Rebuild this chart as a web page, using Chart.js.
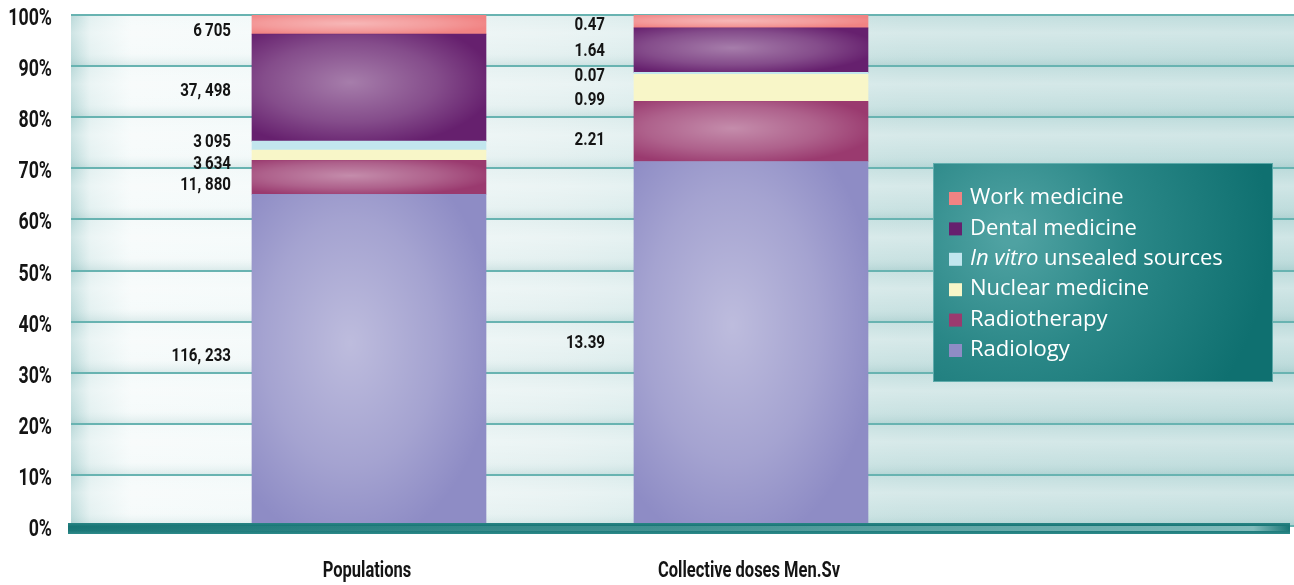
<!DOCTYPE html>
<html>
<head>
<meta charset="utf-8">
<script src="https://cdn.jsdelivr.net/npm/chart.js@4.4.1/dist/chart.umd.min.js"></script>
<style>
  html, body { margin: 0; padding: 0; background: #fff; }
</style>
</head>
<body>
<canvas id="chart" width="1294" height="585"></canvas>
<script>
const categories = ["Populations", "Collective doses Men.Sv"];
const seriesNames = ["Radiology", "Radiotherapy", "Nuclear medicine", "In vitro unsealed sources", "Dental medicine", "Work medicine"];

// raw values: [populations, collective doses (Men.Sv)]
const radiology = [116233, 13.39];
const radiotherapy = [11880, 2.21];
const nuclear = [3634, 0.99];
const inVitro = [3095, 0.07];
const dental = [37498, 1.64];
const work = [6705, 0.47];

// value labels as printed beside each bar, in series order
const populationLabels = ["116, 233", "11, 880", "3\u2009634", "3\u2009095", "37, 498", "6\u2009705"];
const doseLabels = ["13.39", "2.21", "0.99", "0.07", "1.64", "0.47"];

const yTicks = [0, 10, 20, 30, 40, 50, 60, 70, 80, 90, 100];

const seriesValues = [radiology, radiotherapy, nuclear, inVitro, dental, work];
const seriesColors = ["#8e8cc5", "#9a3a6f", "#f8f6c8", "#c2e6ee", "#66206e", "#f18383"];
const seriesShine = [true, true, false, false, true, true];
const valueLabels = [populationLabels, doseLabels];
const labelGap = [21, 29];
const labelNudge = [[-3, 8, 9, -3, 4, 7], [0, 9, 13, 3, 1, 4]];

const totals = categories.map((c, i) => seriesValues.reduce((s, arr) => s + arr[i], 0));

// no condensed face is installed, so squeeze Roboto bold horizontally
function condensedText(ctx, text, x, y, size, sx, align, baseline) {
  ctx.save();
  ctx.font = "bold " + size + "px Roboto, sans-serif";
  ctx.fillStyle = "#141414";
  ctx.textAlign = align;
  ctx.textBaseline = baseline || "middle";
  ctx.translate(x, y);
  ctx.scale(sx, 1);
  ctx.fillText(text, 0, 0);
  ctx.restore();
}

const plotBackground = {
  id: "plotBackground",
  beforeDraw(chart) {
    const { ctx, chartArea } = chart;
    const left = chartArea.left, right = chart.width;
    const top = chartArea.top, bottom = chartArea.bottom;
    const w = right - left;
    const g = ctx.createLinearGradient(left, 0, right, 0);
    g.addColorStop(0, "#b9d9d9");
    g.addColorStop(19 / w, "#e2f0f0");
    g.addColorStop(60 / w, "#f5fafa");
    g.addColorStop(190 / w, "#f2f9f9");
    g.addColorStop(490 / w, "#e2efef");
    g.addColorStop(630 / w, "#d4e9e9");
    g.addColorStop(830 / w, "#c6e0e0");
    g.addColorStop(1, "#bcdbdb");
    ctx.save();
    ctx.fillStyle = g;
    ctx.fillRect(left, top, w, bottom - top);

    // soft shine inside each 10% band
    const y = chart.scales.y;
    for (let i = 0; i < yTicks.length - 1; i++) {
      const y0 = y.getPixelForValue(yTicks[i + 1]);
      const y1 = y.getPixelForValue(yTicks[i]);
      const bg = ctx.createLinearGradient(0, y0, 0, y1);
      bg.addColorStop(0, "rgba(255,255,255,0)");
      bg.addColorStop(0.35, "rgba(255,255,255,0.3)");
      bg.addColorStop(0.75, "rgba(255,255,255,0.08)");
      bg.addColorStop(1, "rgba(80,150,150,0.16)");
      ctx.fillStyle = bg;
      ctx.fillRect(left, y0, w, y1 - y0);
    }
    ctx.fillStyle = "rgba(255,255,255,0.5)";
    ctx.fillRect(left, top, w, 1);
    ctx.restore();
  }
};

const barDecor = {
  id: "barDecor",
  afterDatasetsDraw(chart) {
    const { ctx, chartArea } = chart;
    ctx.save();
    // shine on bar segments
    chart.data.datasets.forEach((ds, d) => {
      if (!seriesShine[d]) return;
      chart.getDatasetMeta(d).data.forEach((el) => {
        const { x, y, base, width } = el.getProps(["x", "y", "base", "width"], true);
        const l = x - width / 2, t = Math.min(y, base), h = Math.abs(base - y);
        if (h < 1) return;
        ctx.save();
        ctx.beginPath();
        ctx.rect(l, t, width, h);
        ctx.clip();
        ctx.translate(l + width * 0.42, t + h * 0.45);
        ctx.scale(width * 0.62, h * 0.62);
        const rg = ctx.createRadialGradient(0, 0, 0, 0, 0, 1);
        rg.addColorStop(0, "rgba(255,255,255,0.42)");
        rg.addColorStop(0.6, "rgba(255,255,255,0.2)");
        rg.addColorStop(1, "rgba(255,255,255,0)");
        ctx.fillStyle = rg;
        ctx.fillRect(-2, -2, 4, 4);
        ctx.restore();
      });
    });

    // floor strip along the x axis
    const fy = chartArea.bottom - 3, fh = 11, fx = 68, fw = 1290 - 68;
    const fg = ctx.createLinearGradient(0, fy, 0, fy + fh);
    fg.addColorStop(0, "#2a8585");
    fg.addColorStop(0.3, "#167474");
    fg.addColorStop(0.7, "#1b7878");
    fg.addColorStop(1, "#2f8b8b");
    ctx.fillStyle = fg;
    ctx.fillRect(fx, fy, fw, fh);
    const sg = ctx.createLinearGradient(fx, 0, fx + fw, 0);
    sg.addColorStop(0, "rgba(190,230,230,0)");
    sg.addColorStop(0.5, "rgba(190,230,230,0.25)");
    sg.addColorStop(0.97, "rgba(200,235,235,0.6)");
    sg.addColorStop(1, "rgba(200,235,235,0)");
    ctx.fillStyle = sg;
    ctx.fillRect(fx, fy + 3, fw, 5);

    // value labels to the left of each bar
    chart.data.datasets.forEach((ds, d) => {
      chart.getDatasetMeta(d).data.forEach((el, i) => {
        const { x, y, base, width } = el.getProps(["x", "y", "base", "width"], true);
        condensedText(ctx, valueLabels[i][d], x - width / 2 - labelGap[i], (y + base) / 2 + labelNudge[i][d], 18, 0.84, "right");
      });
    });
    ctx.restore();
  }
};

const axisLabels = {
  id: "axisLabels",
  afterDraw(chart) {
    const { ctx, scales } = chart;
    scales.y.ticks.forEach((t) => {
      condensedText(ctx, t.value + "%", 52, scales.y.getPixelForValue(t.value) + 4, 24, 0.74, "right");
    });
    scales.x.ticks.forEach((t) => {
      condensedText(ctx, categories[t.value - 1], scales.x.getPixelForValue(t.value) - 2, 577, 22, 0.75, "center", "alphabetic");
    });
  }
};

const legendBox = {
  id: "legendBox",
  afterDraw(chart) {
    const { ctx } = chart;
    const bx = 933, by = 163, bw = 340, bh = 219;
    ctx.save();
    const rg = ctx.createRadialGradient(1010, 235, 10, 1010, 235, 260);
    rg.addColorStop(0, "#4fa2a2");
    rg.addColorStop(0.45, "#2a8787");
    rg.addColorStop(1, "#0f7070");
    ctx.fillStyle = rg;
    ctx.fillRect(bx, by, bw, bh);
    ctx.strokeStyle = "rgba(120,190,190,0.7)";
    ctx.lineWidth = 1;
    ctx.strokeRect(bx + 0.5, by + 0.5, bw - 1, bh - 1);

    ctx.textBaseline = "middle";
    ctx.textAlign = "left";
    const items = chart.data.datasets.map((ds, d) => ({ label: ds.label, color: seriesColors[d] })).reverse();
    items.forEach((it, k) => {
      const cy = 198 + k * 30.4;
      ctx.fillStyle = it.color;
      ctx.fillRect(949, cy - 6, 13, 13);
      ctx.fillStyle = "#ffffff";
      let tx = 970;
      let text = it.label;
      if (text.startsWith("In vitro")) {
        ctx.font = "italic 22px 'Open Sans', sans-serif";
        ctx.fillText("In vitro", tx, cy);
        tx += ctx.measureText("In vitro").width;
        text = text.slice("In vitro".length);
      }
      ctx.font = "22px 'Open Sans', sans-serif";
      ctx.fillText(text, tx, cy);
    });
    ctx.restore();
  }
};

new Chart(document.getElementById("chart"), {
  type: "bar",
  data: {
    datasets: seriesNames.map((name, d) => ({
      label: name,
      data: categories.map((c, i) => ({ x: i + 1, y: seriesValues[d][i] / totals[i] * 100 })),
      backgroundColor: seriesColors[d],
      borderWidth: 0,
      barThickness: 234
    }))
  },
  options: {
    responsive: false,
    devicePixelRatio: 1,
    animation: false,
    layout: { padding: { top: 15, right: 0, bottom: 0, left: 0 } },
    scales: {
      x: {
        type: "linear",
        stacked: true,
        offset: false,
        min: 0.2199,
        max: 3.4215,
        grid: { display: false, offset: false },
        border: { display: false },
        afterBuildTicks: (scale) => { scale.ticks = categories.map((c, i) => ({ value: i + 1 })); },
        afterFit: (scale) => { scale.height = 59; },
        ticks: { display: false }
      },
      y: {
        stacked: true,
        min: 0,
        max: 100,
        afterBuildTicks: (scale) => { scale.ticks = yTicks.map((v) => ({ value: v })); },
        afterFit: (scale) => { scale.width = 71; },
        grid: { color: "#68b3b1", lineWidth: 2, drawTicks: false },
        border: { display: false },
        ticks: { display: false }
      }
    },
    plugins: {
      legend: { display: false },
      tooltip: { enabled: false }
    }
  },
  plugins: [plotBackground, barDecor, axisLabels, legendBox]
});
</script>
</body>
</html>
